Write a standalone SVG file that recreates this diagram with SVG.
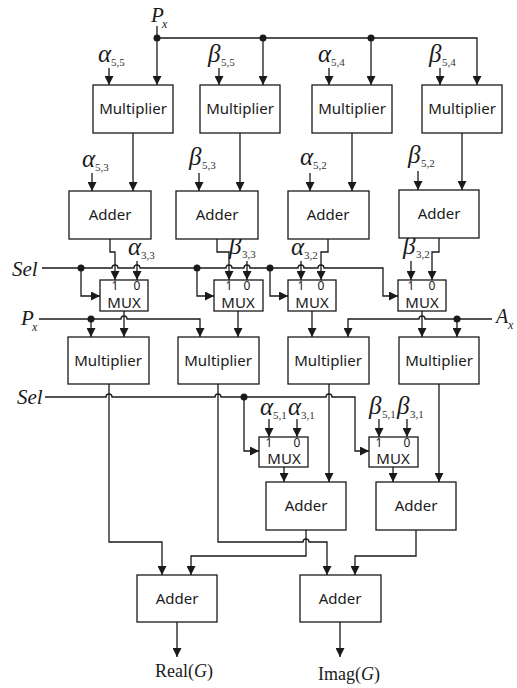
<svg xmlns="http://www.w3.org/2000/svg" width="517" height="688" viewBox="0 0 517 688">
<defs>
<marker id="ah" markerUnits="userSpaceOnUse" markerWidth="10" markerHeight="9" refX="9" refY="4.5" orient="auto">
<path d="M0,0 L9,4.5 L0,9 z" fill="#1a1a1a"/>
</marker>
<style>
.box{fill:#fff;stroke:#1a1a1a;stroke-width:1.3}
.lbl{font-family:"Noto Sans","Liberation Sans",sans-serif;font-size:15px;fill:#1a1a1a;text-anchor:middle}
.mux{font-family:"Noto Sans","Liberation Sans",sans-serif;font-size:15px;fill:#1a1a1a;text-anchor:middle}
.dig{font-family:"Noto Sans","Liberation Sans",sans-serif;font-size:12px;fill:#1a1a1a;text-anchor:middle}
.w{fill:none;stroke:#1a1a1a;stroke-width:1.3}
.a{marker-end:url(#ah)}
.dot{fill:#1a1a1a}
.g{font-family:"Liberation Serif",serif;font-style:italic;font-size:25px;fill:#1a1a1a}
.s{font-family:"Liberation Serif",serif;font-size:11px;fill:#333}
.it{font-family:"Liberation Serif",serif;font-style:italic;fill:#1a1a1a}
.rm{font-family:"Liberation Serif",serif;font-size:18px;fill:#1a1a1a}
</style>
</defs>
<rect width="517" height="688" fill="#fff"/>

<g id="connectors">
<path class="w a" d="M157,26 V85"/>
<path class="w a" d="M157,38 H477 V85"/>
<path class="w a" d="M263,38 V85"/>
<path class="w a" d="M371,38 V85"/>
<path class="w a" d="M109,68 V85"/>
<path class="w a" d="M219,68 V85"/>
<path class="w a" d="M329,68 V85"/>
<path class="w a" d="M440,68 V85"/>
<path class="w a" d="M133,133 V191"/>
<path class="w a" d="M240,133 V191"/>
<path class="w a" d="M352,133 V191"/>
<path class="w a" d="M462,133 V190"/>
<path class="w a" d="M92,173 V191"/>
<path class="w a" d="M199,173 V191"/>
<path class="w a" d="M310,173 V191"/>
<path class="w a" d="M418,171 V190"/>
<path class="w a" d="M110,239 V252 H115 V280"/>
<path class="w a" d="M217,239 V252 H229 V280"/>
<path class="w a" d="M328,239 V252 H321 V280"/>
<path class="w a" d="M439,238 V252 H432 V280"/>
<path class="w a" d="M137,261 V280"/>
<path class="w a" d="M247,261 V280"/>
<path class="w a" d="M301,261 V280"/>
<path class="w a" d="M411,261 V280"/>
<path class="w a" d="M42,268 H112 A3,3 0 0 1 118,268 H134 A3,3 0 0 1 140,268 H226 A3,3 0 0 1 232,268 H244 A3,3 0 0 1 250,268 H298 A3,3 0 0 1 304,268 H318 A3,3 0 0 1 324,268 H383 V296 H398"/>
<path class="w a" d="M81,268 V296 H100"/>
<path class="w a" d="M197,268 V296 H214"/>
<path class="w a" d="M270,268 V296 H288"/>
<path class="w a" d="M124,311 V337"/>
<path class="w a" d="M238,311 V337"/>
<path class="w a" d="M312,311 V337"/>
<path class="w a" d="M422,311 V337"/>
<path class="w a" d="M39,319 H121 A3,3 0 0 1 127,319 H200 V337"/>
<path class="w a" d="M91,319 V337"/>
<path class="w a" d="M492,319 H425 A3,3 0 0 0 419,319 H348 V337"/>
<path class="w a" d="M457,319 V337"/>
<path class="w a" d="M45,397 H106 A3,3 0 0 1 112,397 H215 A3,3 0 0 1 221,397 H326 A3,3 0 0 1 332,397 H355 V451 H369"/>
<path class="w a" d="M244,397 V451 H259"/>
<path class="w a" d="M269,419 V437"/>
<path class="w a" d="M297,419 V437"/>
<path class="w a" d="M379,419 V437"/>
<path class="w a" d="M407,419 V437"/>
<path class="w a" d="M284,467 V482"/>
<path class="w a" d="M393,467 V482"/>
<path class="w a" d="M329,384 V482"/>
<path class="w a" d="M439,384 V482"/>
<path class="w a" d="M109,384 V542 H162 V575"/>
<path class="w a" d="M218,384 V542 H303 A3,3 0 0 1 309,542 H327 V575"/>
<path class="w a" d="M306,530 V556 H191 V575"/>
<path class="w a" d="M416,530 V556 H355 V575"/>
<path class="w a" d="M177,622 V657"/>
<path class="w a" d="M340,622 V657"/>
<circle class="dot" cx="157" cy="38" r="3.5"/>
<circle class="dot" cx="263" cy="38" r="3.5"/>
<circle class="dot" cx="371" cy="38" r="3.5"/>
<circle class="dot" cx="81" cy="268" r="3.5"/>
<circle class="dot" cx="197" cy="268" r="3.5"/>
<circle class="dot" cx="270" cy="268" r="3.5"/>
<circle class="dot" cx="91" cy="319" r="3.5"/>
<circle class="dot" cx="457" cy="319" r="3.5"/>
<circle class="dot" cx="244" cy="397" r="3.5"/>
</g>

<g id="labels">
<text class="it" x="151" y="22" font-size="21">P</text><text class="it" x="162" y="28" font-size="12">x</text>
<text class="it" x="21" y="325" font-size="21">P</text><text class="it" x="32" y="331" font-size="12">x</text>
<text class="it" x="496" y="323" font-size="20">A</text><text class="it" x="508" y="329" font-size="12">x</text>
<text class="it" x="12" y="276" font-size="21">Sel</text>
<text class="it" x="17" y="404" font-size="21">Sel</text>

<text class="g" x="98" y="62">α</text><text class="s" x="111" y="66">5,5</text>
<text class="g" x="208" y="62">β</text><text class="s" x="221" y="66">5,5</text>
<text class="g" x="318" y="62">α</text><text class="s" x="331" y="66">5,4</text>
<text class="g" x="429" y="62">β</text><text class="s" x="442" y="66">5,4</text>

<text class="g" x="82" y="167">α</text><text class="s" x="95" y="171">5,3</text>
<text class="g" x="189" y="165">β</text><text class="s" x="202" y="169">5,3</text>
<text class="g" x="300" y="165">α</text><text class="s" x="313" y="169">5,2</text>
<text class="g" x="408" y="163">β</text><text class="s" x="421" y="167">5,2</text>

<text class="g" x="128" y="255">α</text><text class="s" x="141" y="259">3,3</text>
<text class="g" x="229" y="254">β</text><text class="s" x="242" y="258">3,3</text>
<text class="g" x="291" y="255">α</text><text class="s" x="304" y="259">3,2</text>
<text class="g" x="403" y="254">β</text><text class="s" x="416" y="258">3,2</text>

<text class="g" x="260" y="415">α</text><text class="s" x="273" y="419">5,1</text>
<text class="g" x="288" y="415">α</text><text class="s" x="301" y="419">3,1</text>
<text class="g" x="369" y="414">β</text><text class="s" x="382" y="418">5,1</text>
<text class="g" x="397" y="414">β</text><text class="s" x="410" y="418">3,1</text>

<text class="rm" x="155" y="677">Real(<tspan font-style="italic">G</tspan>)</text>
<text class="rm" x="318" y="680">Imag(<tspan font-style="italic">G</tspan>)</text>
</g>

<g id="mul1"><rect class="box" x="93" y="85" width="80" height="48"/><text class="lbl" x="133" y="114">Multiplier</text></g>
<g id="mul2"><rect class="box" x="200" y="85" width="80" height="48"/><text class="lbl" x="240" y="114">Multiplier</text></g>
<g id="mul3"><rect class="box" x="312" y="85" width="80" height="48"/><text class="lbl" x="352" y="114">Multiplier</text></g>
<g id="mul4"><rect class="box" x="422" y="85" width="80" height="48"/><text class="lbl" x="462" y="114">Multiplier</text></g>

<g id="add1"><rect class="box" x="69" y="191" width="82" height="48"/><text class="lbl" x="110" y="220">Adder</text></g>
<g id="add2"><rect class="box" x="176" y="191" width="82" height="48"/><text class="lbl" x="217" y="220">Adder</text></g>
<g id="add3"><rect class="box" x="288" y="191" width="81" height="48"/><text class="lbl" x="328" y="220">Adder</text></g>
<g id="add4"><rect class="box" x="399" y="190" width="80" height="48"/><text class="lbl" x="439" y="219">Adder</text></g>

<g id="mux1"><rect class="box" x="100" y="280" width="48" height="31"/><text class="dig" x="115" y="290">1</text><text class="dig" x="137" y="290">0</text><text class="mux" x="124" y="308">MUX</text></g>
<g id="mux2"><rect class="box" x="214" y="280" width="49" height="31"/><text class="dig" x="229" y="290">1</text><text class="dig" x="247" y="290">0</text><text class="mux" x="238" y="308">MUX</text></g>
<g id="mux3"><rect class="box" x="288" y="280" width="48" height="31"/><text class="dig" x="301" y="290">1</text><text class="dig" x="321" y="290">0</text><text class="mux" x="312" y="308">MUX</text></g>
<g id="mux4"><rect class="box" x="398" y="280" width="48" height="31"/><text class="dig" x="411" y="290">1</text><text class="dig" x="432" y="290">0</text><text class="mux" x="422" y="308">MUX</text></g>

<g id="mul5"><rect class="box" x="68" y="337" width="81" height="47"/><text class="lbl" x="108" y="366">Multiplier</text></g>
<g id="mul6"><rect class="box" x="178" y="337" width="81" height="47"/><text class="lbl" x="218" y="366">Multiplier</text></g>
<g id="mul7"><rect class="box" x="288" y="337" width="81" height="47"/><text class="lbl" x="328" y="366">Multiplier</text></g>
<g id="mul8"><rect class="box" x="399" y="337" width="80" height="47"/><text class="lbl" x="439" y="366">Multiplier</text></g>

<g id="mux5"><rect class="box" x="259" y="437" width="49" height="30"/><text class="dig" x="269" y="447">1</text><text class="dig" x="297" y="447">0</text><text class="mux" x="284" y="464">MUX</text></g>
<g id="mux6"><rect class="box" x="369" y="437" width="49" height="30"/><text class="dig" x="379" y="447">1</text><text class="dig" x="407" y="447">0</text><text class="mux" x="393" y="464">MUX</text></g>

<g id="add5"><rect class="box" x="266" y="482" width="80" height="48"/><text class="lbl" x="306" y="511">Adder</text></g>
<g id="add6"><rect class="box" x="376" y="482" width="80" height="48"/><text class="lbl" x="416" y="511">Adder</text></g>

<g id="add7"><rect class="box" x="137" y="575" width="80" height="47"/><text class="lbl" x="177" y="604">Adder</text></g>
<g id="add8"><rect class="box" x="300" y="575" width="81" height="47"/><text class="lbl" x="340" y="604">Adder</text></g>
</svg>
